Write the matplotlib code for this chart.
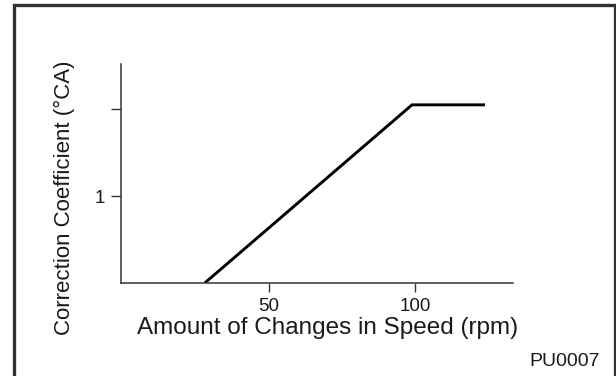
import matplotlib
matplotlib.use("Agg")
from matplotlib import pyplot as plt
from matplotlib.patches import Rectangle

plt.rcParams['font.family'] = ['Liberation Sans', 'DejaVu Sans']

# data
speed = [28, 99, 124]
coeff = [0, 2.05, 2.05]
x_ticks = [50, 100]
x_tick_labels = ["50", "100"]
y_ticks = [1, 2]
y_tick_labels = ["1", ""]

W, H = 616, 376
fig = plt.figure(figsize=(W / 100, H / 100), dpi=100)
ax = fig.add_axes([121 / W, 1 - 283 / H, (513 - 121) / W, (283 - 64) / H])

ax.plot(speed, coeff, color="black", lw=2.1, solid_capstyle="butt",
        solid_joinstyle="miter")
ax.set_xlim(-0.7, 133.6)
ax.set_ylim(0, 2.52)

ax.set_xticks(x_ticks)
ax.set_xticklabels(x_tick_labels)
ax.set_yticks(y_ticks)
ax.set_yticklabels(y_tick_labels)

for side in ("top", "right"):
    ax.spines[side].set_visible(False)
for side in ("left", "bottom"):
    ax.spines[side].set_color("#333333")
    ax.spines[side].set_linewidth(1.1)

ax.tick_params(axis="x", length=6.5, width=1.0, color="#333333", pad=4.5,
               labelsize=13.5, labelcolor="#1a1a1a")
ax.tick_params(axis="y", length=7.2, width=1.0, color="#333333", pad=4.0,
               labelsize=13.5, labelcolor="#1a1a1a")

fig.text(64 / W, 1 - 197.5 / H, "Correction Coefficient (°CA)", rotation=90,
         ha="center", va="center", fontsize=16, color="#1a1a1a")
fig.text(328 / W, 1 - 334 / H, "Amount of Changes in Speed (rpm)",
         ha="center", va="baseline", fontsize=17.5, color="#1a1a1a")
fig.text(600 / W, 1 - 366 / H, "PU0007", ha="right", va="baseline",
         fontsize=14, color="#1a1a1a")

# frame around the figure
fig.patches.append(Rectangle((13.5 / W, -0.05), (614.5 - 13.5) / W, 1.05 - 4.5 / H,
                             transform=fig.transFigure, fill=False,
                             edgecolor="#333333", lw=2.4))

fig.savefig("out.png", dpi=100)
